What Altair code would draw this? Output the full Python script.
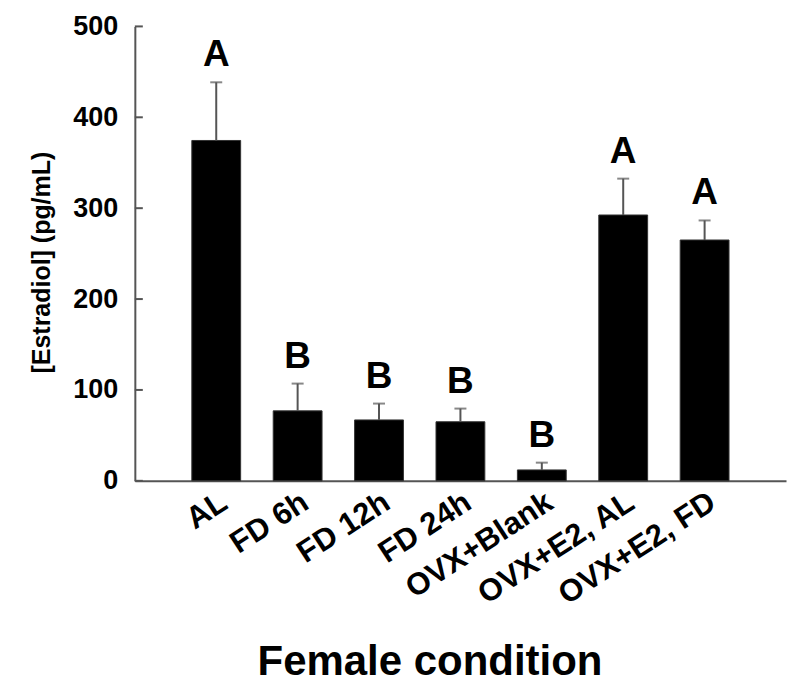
import altair as alt
import pandas as pd

categories = ["AL", "FD 6h", "FD 12h", "FD 24h", "OVX+Blank", "OVX+E2, AL", "OVX+E2, FD"]
means = [374.5, 77, 67, 65, 12, 292.5, 265]
sems = [64, 30, 18, 14.5, 8, 40, 21.5]
letters = ["A", "B", "B", "B", "B", "A", "A"]
y_ticks = [0, 100, 200, 300, 400, 500]

df = pd.DataFrame({"cat": categories, "mean": means, "sem": sems, "letter": letters})
df["top"] = df["mean"] + df["sem"]
ticks_df = pd.DataFrame({"t": y_ticks})

FONT = "Liberation Sans"
AXIS_COLOR = "#555555"
ERR_COLOR = "#555555"
X_TITLE = "Female condition"
Y_TITLE = "[Estradiol] (pg/mL)"

xscale = alt.Scale(domain=categories, paddingInner=0.4, paddingOuter=0.7)
yscale = alt.Scale(domain=[0, 500], nice=False)


def xe():
    return alt.X("cat:N", sort=categories, scale=xscale, title=X_TITLE)


def ye(field):
    return alt.Y(field, scale=yscale, title=Y_TITLE)


bars = alt.Chart(df).mark_bar(color="black", stroke="#333333", strokeWidth=1).encode(
    x=xe(), y=ye("mean:Q")
)

err_line = alt.Chart(df).mark_rule(color=ERR_COLOR, strokeWidth=2).encode(
    x=xe(), y=ye("mean:Q"), y2="top:Q"
)

err_cap = alt.Chart(df).mark_tick(color=ERR_COLOR, thickness=2, size=12).encode(
    x=xe(), y=ye("top:Q")
)

letter_text = alt.Chart(df).mark_text(
    font=FONT, fontSize=37, fontWeight="bold", color="black", baseline="alphabetic", dy=-16
).encode(x=xe(), y=ye("top:Q"), text="letter:N")

tick_marks = alt.Chart(ticks_df).mark_rule(color=AXIS_COLOR, strokeWidth=2).encode(
    y=ye("t:Q"), x=alt.value(0), x2=alt.value(8)
)

chart = (
    alt.layer(bars, err_line, err_cap, letter_text, tick_marks)
    .properties(
        width=652,
        height=455,
        autosize=alt.AutoSizeParams(type="none"),
        padding={"left": 127, "top": 18, "right": 2, "bottom": 204},
        background="white",
    )
    .configure_view(stroke=None)
    .configure_axis(grid=False, ticks=False, domainColor=AXIS_COLOR, domainWidth=2,
                    labelColor="black", titleColor="black", labelFont=FONT, titleFont=FONT,
                    labelFontWeight="bold", titleFontWeight="bold")
    .configure_axisX(
        labelAngle=-33,
        labelAlign="right",
        labelBaseline="top",
        labelFontSize=31,
        labelPadding=6,
        labelLimit=500,
        labelOverlap=False,
        titleFontSize=42,
        titleX=295,
        titleY=194,
        titleAlign="center",
        titleBaseline="alphabetic",
        titleAnchor="start",
    )
    .configure_axisY(
        tickCount=5,
        labelFontSize=27,
        labelPadding=17,
        titleFontSize=25,
        titlePadding=18,
        titleY=236,
        titleAlign="center",
    )
)

chart.save("out.html", embed_options={"renderer": "svg", "actions": False})
